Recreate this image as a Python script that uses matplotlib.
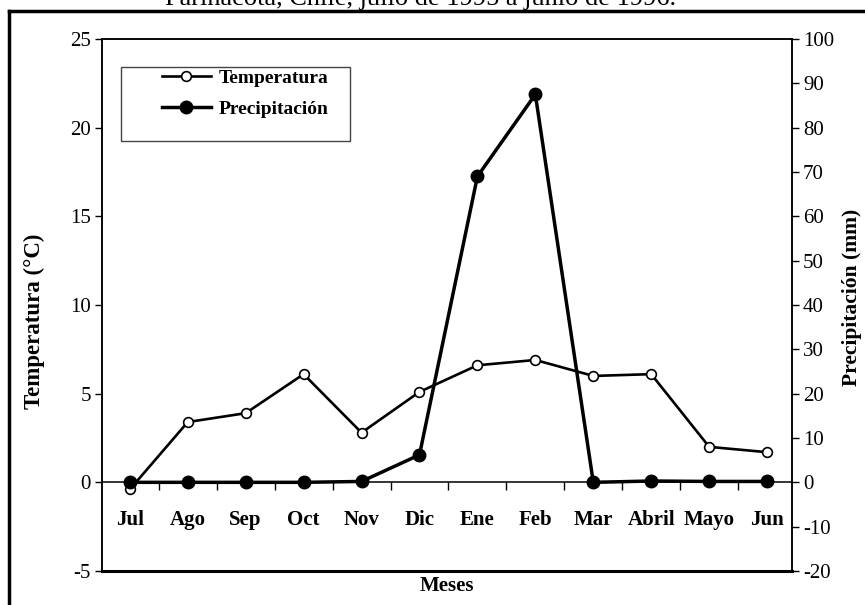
import matplotlib.pyplot as plt
from matplotlib.lines import Line2D
from matplotlib.patches import Rectangle

plt.rcParams['font.family'] = ['Liberation Serif', 'DejaVu Serif']

meses = ['Jul', 'Ago', 'Sep', 'Oct', 'Nov', 'Dic', 'Ene', 'Feb', 'Mar', 'Abril', 'Mayo', 'Jun']
temperatura = [-0.4, 3.4, 3.9, 6.1, 2.8, 5.1, 6.6, 6.9, 6.0, 6.1, 2.0, 1.7]
precipitacion = [0.0, 0.0, 0.0, 0.0, 0.2, 6.2, 69.0, 87.5, 0.0, 0.3, 0.2, 0.2]
temp_ticks = [-5, 0, 5, 10, 15, 20, 25]
prec_ticks = list(range(-20, 101, 10))

fig = plt.figure(figsize=(8.65, 6.05), dpi=100)
ax = fig.add_axes([102 / 865, 34 / 605, 690 / 865, 532 / 605])
ax2 = ax.twinx()

x = list(range(len(meses)))

ax.plot(x, temperatura, color='black', lw=1.9, marker='o', ms=7,
        mfc='white', mec='black', mew=1.2, label='Temperatura')
ax2.plot(x, precipitacion, color='black', lw=2.5, marker='o', ms=9,
         mfc='black', mec='black', label='Precipitación')

ax.set_xlim(-0.48, 11.43)
ax.set_ylim(-5, 25)
ax2.set_ylim(-20, 100)

# left axis
ax.set_yticks(temp_ticks)
ax.set_yticklabels([str(t) for t in temp_ticks])
ax.tick_params(axis='y', direction='out', length=5, width=1, labelsize=15, pad=3)

# x axis sits on the zero line, month ticks between categories
ax.spines['bottom'].set_position(('data', 0))
ax.set_xticks(x)
ax.set_xticklabels(meses, fontweight='bold', va='baseline')
ax.set_xticks([i + 0.5 for i in x[:-1]], minor=True)
ax.tick_params(axis='x', which='major', length=0, labelsize=15, pad=31)
ax.tick_params(axis='x', which='minor', direction='out', length=6, width=1)
ax.axhline(-5, color='black', lw=2.2, clip_on=False)

for sp in ax.spines.values():
    sp.set_linewidth(1.1)

# right axis
ax2.set_yticks(prec_ticks)
ax2.set_yticklabels([str(t) for t in prec_ticks])
ax2.tick_params(axis='y', direction='out', length=5, width=1, labelsize=15, pad=3)
for sp in ax2.spines.values():
    sp.set_linewidth(1.1)
ax2.spines['bottom'].set_visible(False)

ax.set_ylabel('Temperatura (°C)', fontsize=16.5, fontweight='bold')
ax.yaxis.set_label_coords(-57 / 690, 0.47)
ax2.set_ylabel('Precipitación (mm)', fontsize=15.5, fontweight='bold', rotation=90)
ax2.yaxis.set_label_coords(1 + 50 / 690, 0.515)
ax.set_xlabel('Meses', fontsize=15, fontweight='bold')
ax.xaxis.set_label_coords(0.5, -0.01)

# legend
handles = [ax.get_lines()[0], ax2.get_lines()[0]]
leg = ax2.legend(handles, ['Temperatura', 'Precipitación'], loc='upper left',
                 bbox_to_anchor=(60 / 690, 1 - 30 / 532), frameon=False,
                 prop={'size': 14, 'weight': 'bold'}, handlelength=2.5,
                 handletextpad=0.4, labelspacing=0.7, borderpad=0, borderaxespad=0)
ax2.add_patch(Rectangle((19 / 690, 1 - 102 / 532), 229 / 690, 74 / 532,
                        transform=ax2.transAxes, fill=False, ec='#444444', lw=1.0,
                        zorder=5))

# title, cut off at the top edge of the scan
fig.text(0.486, 1 - 5 / 605, 'Parinacota, Chile, julio de 1995 a junio de 1996.',
         ha='center', va='baseline', fontsize=19)

# scanned page frame
fig.add_artist(Line2D([9 / 865, 9 / 865], [0, 1 - 11 / 605], transform=fig.transFigure,
                      color='black', lw=2.5))
fig.add_artist(Line2D([9 / 865, 1], [1 - 11 / 605, 1 - 11 / 605], transform=fig.transFigure,
                      color='black', lw=2.5))

fig.savefig('out.png', dpi=100)
